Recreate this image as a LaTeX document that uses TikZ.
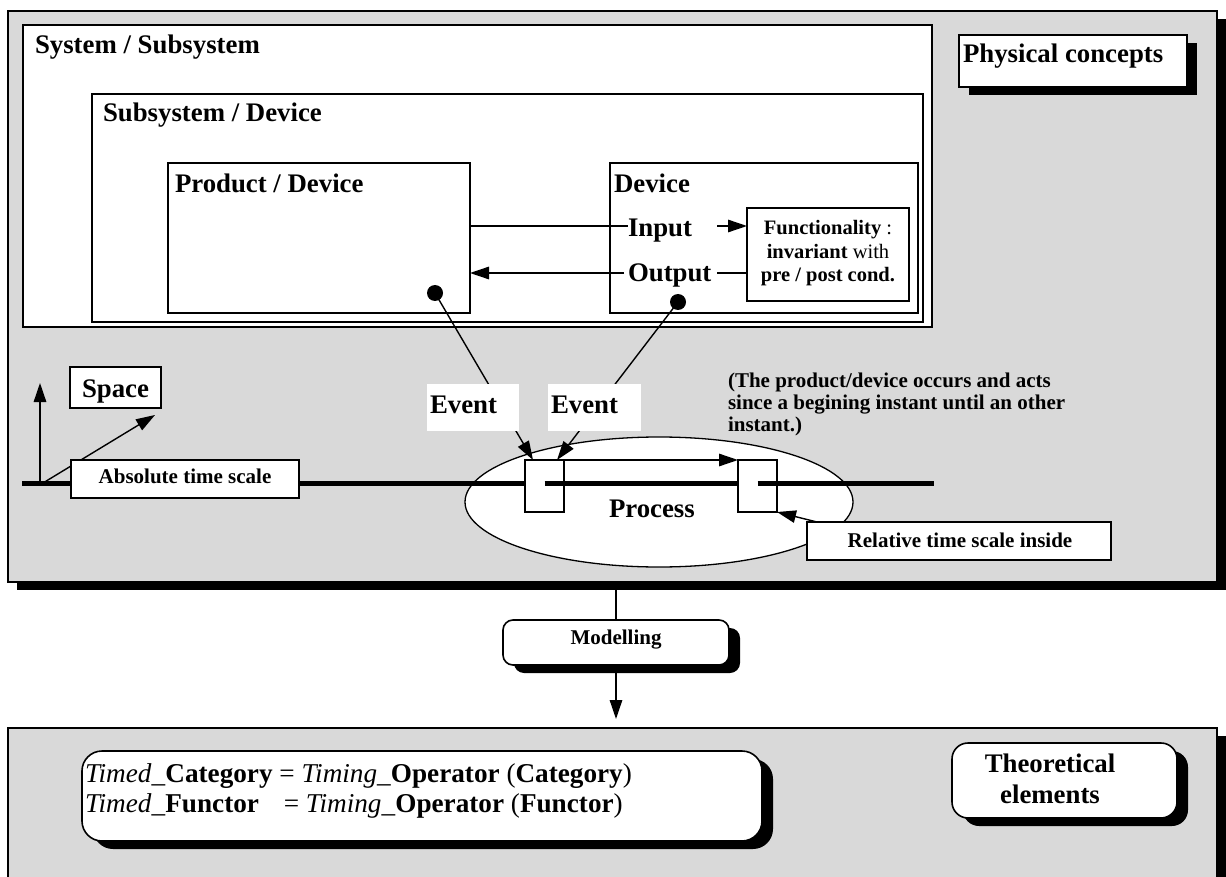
\documentclass[tikz,border=0pt]{standalone}
\usepackage{fontspec}
\setmainfont{Liberation Serif}
\usetikzlibrary{arrows.meta,shadows,calc,shapes.geometric}
\newcommand{\fbig}{\fontsize{26.8}{30}\selectfont\bfseries}
\newcommand{\fmid}{\fontsize{21}{23}\selectfont\bfseries}
\newcommand{\fsml}{\fontsize{20.5}{23.5}\selectfont}
\newcommand{\freg}{\fontsize{27.2}{30}\selectfont}
\definecolor{panelgray}{RGB}{217,217,217}
\begin{document}
\begin{tikzpicture}[x=1pt,y=-1pt,
  every node/.style={inner sep=0pt, outer sep=0pt},
  frame/.style={draw, line width=1.7pt, fill=white, rectangle, anchor=north west},
  thinframe/.style={draw, line width=1.3pt, fill=white, rectangle, anchor=north west},
  blackshadow/.style={drop shadow={shadow xshift=#1, shadow yshift=-8pt, fill=black, opacity=1}},
  panel/.style={draw, line width=1.6pt, fill=panelgray, rectangle, anchor=north west, blackshadow=9pt},
  roundbox/.style={draw, line width=1.6pt, fill=white, rectangle, anchor=north west, rounded corners=#1, blackshadow=11pt},
  lbl/.style={anchor=base west, font=\fbig},
  conn/.style={line width=1.4pt},
  arr/.style={line width=1.4pt, -{Triangle[length=19pt,width=12.5pt]}},
  timeline/.style={line width=5pt},
  dot/.style={circle, fill=black, minimum size=16pt}
]
\useasboundingbox (0,0) rectangle (1226,877);
\clip (0,0) rectangle (1226,877);

% ---------- physical concepts panel ----------
\node[panel, minimum width=1209, minimum height=571] (phys) at (8,11) {};
\node[frame, minimum width=228, minimum height=52, blackshadow=10pt] (pc) at (959,35) {};
\node[lbl] (pcl) at (963,63) {Physical concepts};

\node[frame, minimum width=909, minimum height=302] (sys) at (23,25) {};
\node[lbl] (sysl) at (35,54) {System / Subsystem};
\node[frame, minimum width=831, minimum height=228] (sub) at (92,94) {};
\node[lbl] (subl) at (103,122) {Subsystem / Device};
\node[frame, minimum width=302, minimum height=150] (prod) at (168,163) {};
\node[lbl] (prodl) at (175,193) {Product / Device};
\node[frame, minimum width=308, minimum height=150] (dev) at (610,163) {};
\node[lbl] (devl) at (614,193) {Device};
\node[lbl] (inl) at (628,237) {Input};
\node[lbl] (outl) at (628,282) {Output};

% functionality of the device
\node[frame, minimum width=162, minimum height=93] (func) at (747,208) {};
\node[anchor=base, font=\fsml] (f1) at (828,235) {\textbf{Functionality} :};
\node[anchor=base, font=\fsml] (f2) at (828,258.5) {\textbf{invariant} with};
\node[anchor=base, font=\fsml] (f3) at (828,282) {\textbf{pre / post cond.}};

% input / output flows
\coordinate (inY) at (0,226);
\coordinate (outY) at (0,273);
\coordinate (ioR) at (717,0);
\draw[conn] (prod.east |- inY) -- (inl.west |- inY);
\draw[arr] (ioR |- inY) -- (func.west |- inY);
\draw[conn] (func.west |- outY) -- (ioR |- outY);
\draw[arr] ($(outl.west |- outY)+(-4,0)$) -- (prod.east |- outY);

\node[dot] (d1) at (435,293) {};
\node[dot] (d2) at (678,302) {};

% ---------- time scales ----------
\node[ellipse, draw, fill=white, line width=1.3pt, minimum width=388, minimum height=130] (proc) at (659,502) {};
\node[lbl] (procl) at (609,517) {Process};

\coordinate (t0) at (22,483);
\coordinate (t1) at (934,483);
\draw[timeline] (t0) -- (t1);

\node[thinframe, minimum width=39, minimum height=52] (b1) at (525,460) {};
\node[thinframe, minimum width=39, minimum height=52] (b2) at (738,460) {};
\draw[timeline] (b1.center |- t0) -- (b2.west |- t0);
\draw[timeline] (b2.center |- t0) -- (t1);
\draw[arr] (b1.north east) -- (b2.north west);

% space axes
\coordinate (ov) at (40,483);
\coordinate (vtip) at (40,383);
\coordinate (od) at (43,483);
\coordinate (dtip) at (155,415);
\draw[arr] (ov) -- (vtip);
\draw[arr] (od) -- (dtip);
\node[thinframe, minimum width=91, minimum height=41] (space) at (70,367) {};
\node[anchor=base, font=\fbig] (spacel) at (115.5,397) {Space};
\node[thinframe, minimum width=228, minimum height=38] (abs) at (71,460) {};
\node[anchor=base, font=\fmid] (absl) at (185,483) {Absolute time scale};

\node[thinframe, minimum width=304, minimum height=38] (rel) at (807,522) {};
\node[anchor=base, font=\fmid] (rell) at (960,547) {Relative time scale inside};
\draw[arr] ($(rel.north west)+(10,0)$) -- (b2.south east);

% events
\draw[arr] (d1.center) -- ($(b1.north west)+(8,0)$);
\draw[arr] (d2.center) -- ($(b1.north east)+(-7,0)$);
\node[fill=white, anchor=north west, minimum width=92, minimum height=47] (ev1) at (427,384) {};
\node[lbl] (ev1l) at (430,413) {Event};
\node[fill=white, anchor=north west, minimum width=93, minimum height=47] (ev2) at (548,384) {};
\node[lbl] (ev2l) at (551,413) {Event};

\node[anchor=base west, font=\fmid] (n1) at (728,387) {(The product/device occurs and acts};
\node[anchor=base west, font=\fmid] (n2) at (728,409) {since a begining instant until an other};
\node[anchor=base west, font=\fmid] (n3) at (728,431) {instant.)};

% ---------- theoretical elements panel ----------
\node[panel, minimum width=1209, minimum height=220] (bot) at (8,728) {};

\node[roundbox=10pt, minimum width=226, minimum height=45] (mod) at (503,620) {};
\node[anchor=base, font=\fmid] (modl) at (616,644) {Modelling};
\draw[conn] (mod.north |- phys.south) -- (mod.north);
\draw[arr] (mod.south) -- ($(mod.south |- bot.north)+(0,-9)$);

\node[roundbox=20pt, minimum width=680, minimum height=90] (form) at (82,751) {};
\node[anchor=base west, font=\freg] (fl1) at (85,782)
  {\textit{Timed}\_\textbf{Category} = \textit{Timing}\_\textbf{Operator} (\textbf{Category})};
\node[anchor=base west, font=\freg] (fl2) at (85,812)
  {\textit{Timed}\_\textbf{Functor}\hspace{18pt} = \textit{Timing}\_\textbf{Operator} (\textbf{Functor})};

\node[roundbox=16pt, minimum width=225, minimum height=75] (theo) at (952,743) {};
\node[anchor=base, font=\fbig] (th1) at (1050,772) {Theoretical};
\node[anchor=base, font=\fbig] (th2) at (1050,803) {elements};
\end{tikzpicture}
\end{document}
